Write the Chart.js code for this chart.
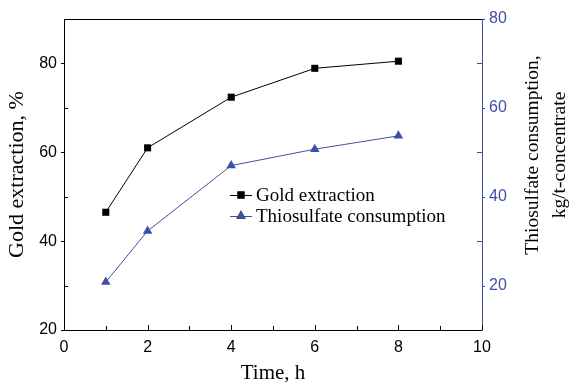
<!DOCTYPE html>
<html>
<head>
<meta charset="utf-8">
<script src="https://cdn.jsdelivr.net/npm/chart.js@4.4.1/dist/chart.umd.min.js"></script>
<style>
  html, body { margin: 0; padding: 0; background: #fff; }
  #wrap { width: 570px; height: 384px; }
</style>
</head>
<body>
<div id="wrap"><canvas id="timeChart" width="570" height="384"></canvas></div>
<script>
var timeHours = [1, 2, 4, 6, 8];
var goldExtraction = [46.5, 61.0, 72.4, 78.9, 80.5];
var thioConsumption = [20.8, 32.3, 47.0, 50.7, 53.7];
var xTicks = [0, 2, 4, 6, 8, 10];
var leftTicks = [20, 40, 60, 80];
var rightTicks = [20, 40, 60, 80];

var blue = '#3d4fa6';
var serif = '"Liberation Serif", "Times New Roman", serif';
var sans = '"Liberation Sans", Arial, sans-serif';

function pts(xs, ys) {
  return xs.map(function (x, i) { return { x: x, y: ys[i] }; });
}

// little tick marks: majors and minors, in/out like the original plot
var tickMarks = {
  id: 'tickMarks',
  afterDraw: function (chart) {
    var ctx = chart.ctx, a = chart.chartArea;
    var sx = chart.scales.x, sl = chart.scales.y, sr = chart.scales.y2;
    ctx.save();
    ctx.lineWidth = 1;
    // top frame line
    ctx.strokeStyle = '#000';
    ctx.beginPath();
    ctx.moveTo(a.left, a.top + 0.5);
    ctx.lineTo(a.right, a.top + 0.5);
    ctx.stroke();

    ctx.beginPath();
    for (var v = 0; v <= 10; v++) {
      var px = Math.round(sx.getPixelForValue(v)) + 0.5;
      var len = (v % 2 === 0) ? 5 : 4;
      ctx.moveTo(px, a.bottom);
      ctx.lineTo(px, a.bottom - len);
    }
    for (var w = 20; w <= 80; w += 10) {
      var py = Math.round(sl.getPixelForValue(w)) + 0.5;
      if (w % 20 === 0) { ctx.moveTo(a.left, py); ctx.lineTo(a.left - 3, py); }
      else { ctx.moveTo(a.left, py); ctx.lineTo(a.left + 4, py); }
    }
    ctx.stroke();

    ctx.strokeStyle = blue;
    ctx.beginPath();
    for (var r = 20; r <= 80; r += 10) {
      var ry = Math.round(sr.getPixelForValue(r)) + 0.5;
      if (r % 20 === 0) { ctx.moveTo(a.right, ry); ctx.lineTo(a.right + 3, ry); }
      else { ctx.moveTo(a.right, ry); ctx.lineTo(a.right - 5, ry); }
    }
    ctx.stroke();

    // right axis title, reads bottom to top
    ctx.fillStyle = '#000';
    ctx.font = '19.5px ' + serif;
    ctx.textAlign = 'center';
    ctx.textBaseline = 'middle';
    ctx.translate(533, 155);
    ctx.rotate(-Math.PI / 2);
    ctx.fillText('Thiosulfate consumption,', 0, 0);
    ctx.fillText('kg/t-concentrate', 0, 27);
    ctx.restore();
  }
};

// legend inside the plot
var innerLegend = {
  id: 'innerLegend',
  afterDraw: function (chart) {
    var ctx = chart.ctx;
    ctx.save();
    chart.data.datasets.forEach(function (ds, i) {
      var y = 195 + i * 21;
      ctx.strokeStyle = ds.borderColor;
      ctx.lineWidth = 1;
      ctx.beginPath();
      ctx.moveTo(230, y + 0.5);
      ctx.lineTo(252, y + 0.5);
      ctx.stroke();
      Chart.helpers.drawPoint(ctx, {
        pointStyle: ds.pointStyle, radius: ds.pointRadius, borderWidth: 0
      }, 241, y);
      ctx.fillStyle = ds.pointBackgroundColor;
      ctx.fill();
      ctx.fillStyle = '#000';
      ctx.font = '19px ' + serif;
      ctx.textAlign = 'left';
      ctx.textBaseline = 'middle';
      ctx.fillText(ds.label, 256, y + 1);
    });
    ctx.restore();
  }
};

var ctx1 = document.getElementById('timeChart').getContext('2d');
new Chart(ctx1, {
  type: 'line',
  data: {
    datasets: [
      {
        label: 'Gold extraction',
        data: pts(timeHours, goldExtraction),
        yAxisID: 'y',
        borderColor: '#000',
        borderWidth: 1,
        pointStyle: 'rect',
        pointRadius: 5,
        pointBackgroundColor: '#000',
        pointBorderWidth: 0
      },
      {
        label: 'Thiosulfate consumption',
        data: pts(timeHours, thioConsumption),
        yAxisID: 'y2',
        borderColor: blue,
        borderWidth: 1,
        pointStyle: 'triangle',
        pointRadius: 5.5,
        pointBackgroundColor: blue,
        pointBorderWidth: 0
      }
    ]
  },
  options: {
    responsive: false,
    animation: false,
    layout: { padding: { top: 19, left: 0, right: 0, bottom: 0 } },
    plugins: { legend: { display: false }, tooltip: { enabled: false } },
    scales: {
      x: {
        type: 'linear', min: 0, max: 10,
        afterFit: function (s) { s.height = 54; },
        afterBuildTicks: function (s) { s.ticks = xTicks.map(function (v) { return { value: v }; }); },
        grid: { display: false, drawTicks: false },
        border: { color: '#000', width: 1 },
        ticks: { color: '#000', padding: 8, font: { family: sans, size: 16 }, maxRotation: 0 },
        title: { display: true, text: 'Time, h', color: '#000', padding: 0,
                 font: { family: serif, size: 21, lineHeight: 1 } }
      },
      y: {
        type: 'linear', position: 'left', min: 20, max: 90,
        afterFit: function (s) { s.width = 64; },
        afterBuildTicks: function (s) { s.ticks = leftTicks.map(function (v) { return { value: v }; }); },
        grid: { display: false, drawTicks: false },
        border: { color: '#000', width: 1 },
        ticks: { color: '#000', padding: 7, font: { family: sans, size: 16 } },
        title: { display: true, text: 'Gold extraction, %', color: '#000', padding: { top: 6 },
                 font: { family: serif, size: 22, lineHeight: 1 } }
      },
      y2: {
        type: 'linear', position: 'right', min: 10, max: 80,
        afterFit: function (s) { s.width = 88; },
        afterBuildTicks: function (s) { s.ticks = rightTicks.map(function (v) { return { value: v }; }); },
        grid: { display: false, drawTicks: false },
        border: { color: blue, width: 1 },
        ticks: { color: blue, padding: 7, font: { family: sans, size: 16 } }
      }
    }
  },
  plugins: [tickMarks, innerLegend]
});
</script>
</body>
</html>
